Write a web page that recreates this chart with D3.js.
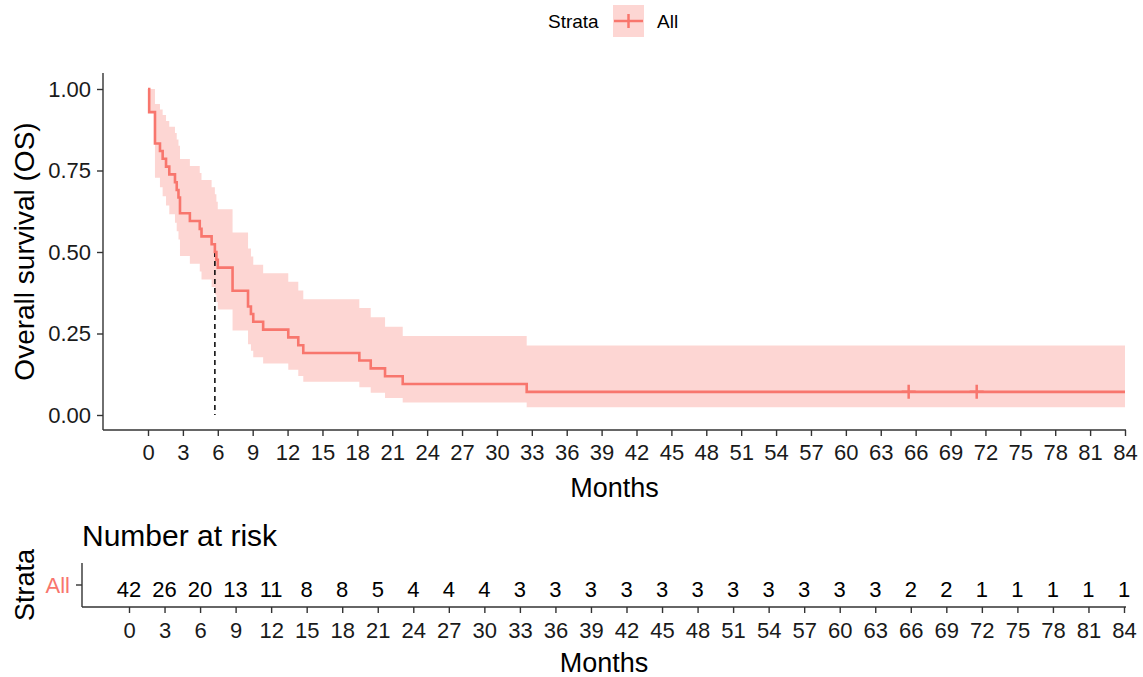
<!DOCTYPE html>
<html>
<head>
<meta charset="utf-8">
<script src="https://cdn.jsdelivr.net/npm/d3@7"></script>
<style>
  body { margin: 0; background: #fff; }
  text { font-family: "Liberation Sans", Arial, sans-serif; }
</style>
</head>
<body>
<div id="chart"></div>
<script>
// Kaplan-Meier steps (months, survival, 95% CI)
const stepTimes = [0, 0.1, 0.6, 1.03, 1.26, 1.55, 1.83, 2.32, 2.47, 2.62, 2.75, 3.6, 4.45, 4.6, 5.47, 5.75, 5.88, 6.0,
  7.27, 8.6, 8.85, 9.05, 9.9, 12.06, 12.92, 13.35, 18.17, 19.15, 20.38, 21.9, 32.56];
const survival = [1.000, 0.929, 0.833, 0.810, 0.786, 0.762, 0.738, 0.714, 0.690, 0.667, 0.619, 0.595, 0.571, 0.548, 0.524, 0.500, 0.476, 0.452,
  0.381, 0.333, 0.310, 0.286, 0.262, 0.238, 0.214, 0.190, 0.167, 0.143, 0.119, 0.095, 0.071];
const upper = [1.000, 1.000, 0.954, 0.937, 0.920, 0.902, 0.884, 0.865, 0.845, 0.826, 0.785, 0.764, 0.742, 0.721, 0.699, 0.677, 0.654, 0.631,
  0.560, 0.511, 0.486, 0.461, 0.435, 0.409, 0.382, 0.355, 0.328, 0.300, 0.271, 0.242, 0.213];
const lower = [1.000, 0.929, 0.728, 0.699, 0.671, 0.643, 0.616, 0.590, 0.564, 0.538, 0.488, 0.464, 0.440, 0.416, 0.393, 0.370, 0.347, 0.324,
  0.259, 0.217, 0.197, 0.177, 0.158, 0.139, 0.120, 0.102, 0.085, 0.068, 0.052, 0.038, 0.024];
const endTime = 84;
const censorTimes = [65.4, 71.25];
const medianTime = 5.75;

// Number at risk table
const riskTimes = d3.range(0, 85, 3);
const riskCounts = [42, 26, 20, 13, 11, 8, 8, 5, 4, 4, 4, 3, 3, 3, 3, 3, 3, 3, 3, 3, 3, 3, 2, 2, 1, 1, 1, 1, 1];
const strataName = "All";

const width = 1143, height = 677;
const red = "#F8766D";
const axisCol = "#333333";
const tickFont = "22px";
const titleFont = "27px";

const svg = d3.select("#chart").append("svg")
  .attr("width", width).attr("height", height);

// ---------- main plot ----------
const panel = { left: 103, right: 1126, top: 73, bottom: 430 };
const x = d3.scaleLinear().domain([0, 84]).range([148, 1125]);
const y = d3.scaleLinear().domain([0, 1]).range([415, 89]);

const steps = stepTimes.map((t, i) => ({ t: t, s: survival[i], up: upper[i], lo: lower[i] }));
steps.push({ t: endTime, s: survival[survival.length - 1], up: upper[upper.length - 1], lo: lower[lower.length - 1] });

// confidence band
svg.append("path")
  .datum(steps)
  .attr("fill", red)
  .attr("fill-opacity", 0.3)
  .attr("d", d3.area()
    .curve(d3.curveStepAfter)
    .x(d => x(d.t))
    .y0(d => y(d.lo))
    .y1(d => y(d.up)));

// median line
svg.append("line")
  .attr("x1", x(medianTime)).attr("x2", x(medianTime))
  .attr("y1", y(0.5)).attr("y2", y(0))
  .attr("stroke", "#000").attr("stroke-width", 1.5)
  .attr("stroke-dasharray", "5 4");

// survival curve
svg.append("path")
  .datum(steps)
  .attr("fill", "none")
  .attr("stroke", red)
  .attr("stroke-width", 2.6)
  .attr("d", d3.line()
    .curve(d3.curveStepAfter)
    .x(d => x(d.t))
    .y(d => y(d.s)));

// censor marks
const lastS = survival[survival.length - 1];
svg.selectAll(".censor")
  .data(censorTimes)
  .enter()
  .append("path")
  .attr("class", "censor")
  .attr("d", d => `M${x(d) - 7},${y(lastS)}H${x(d) + 7}M${x(d)},${y(lastS) - 7}V${y(lastS) + 7}`)
  .attr("stroke", red)
  .attr("stroke-width", 2.5);

// axes
const xAxis = svg.append("g")
  .attr("transform", `translate(0,${panel.bottom})`)
  .call(d3.axisBottom(x).tickValues(d3.range(0, 85, 3)).tickSize(6).tickPadding(8));
xAxis.select(".domain").attr("d", `M${panel.left},0H${panel.right}`);

const yAxis = svg.append("g")
  .attr("transform", `translate(${panel.left},0)`)
  .call(d3.axisLeft(y).tickValues([0, 0.25, 0.5, 0.75, 1]).tickFormat(d3.format(".2f")).tickSize(6).tickPadding(6));
yAxis.select(".domain").attr("d", `M0,${panel.top}V${panel.bottom}`);

[xAxis, yAxis].forEach(g => {
  g.select(".domain").attr("stroke", axisCol).attr("stroke-width", 1.4);
  g.selectAll(".tick line").attr("stroke", axisCol).attr("stroke-width", 1.4);
  g.selectAll(".tick text").attr("fill", "#1a1a1a").style("font-size", tickFont);
});

svg.append("text")
  .attr("x", (panel.left + panel.right) / 2)
  .attr("y", 497)
  .attr("text-anchor", "middle")
  .style("font-size", titleFont)
  .text("Months");

svg.append("text")
  .attr("transform", `translate(34,${(panel.top + panel.bottom) / 2}) rotate(-90)`)
  .attr("text-anchor", "middle")
  .style("font-size", "28px")
  .text("Overall survival (OS)");

// legend
const legend = svg.append("g");
legend.append("text").attr("x", 548).attr("y", 28).style("font-size", "19px").text("Strata");
legend.append("rect").attr("x", 613).attr("y", 5).attr("width", 31).attr("height", 32)
  .attr("fill", red).attr("fill-opacity", 0.3);
legend.append("line").attr("x1", 614).attr("x2", 643).attr("y1", 21).attr("y2", 21)
  .attr("stroke", red).attr("stroke-width", 2.5);
legend.append("line").attr("x1", 628.5).attr("x2", 628.5).attr("y1", 14).attr("y2", 28)
  .attr("stroke", red).attr("stroke-width", 2.5);
legend.append("text").attr("x", 657).attr("y", 28).style("font-size", "19px").text(strataName);

// ---------- risk table ----------
const rPanel = { left: 82, right: 1126, top: 563, bottom: 607 };
const xr = d3.scaleLinear().domain([0, 84]).range([129, 1124]);
const rowY = 585;

svg.append("text")
  .attr("x", 82).attr("y", 546)
  .style("font-size", "30px")
  .text("Number at risk");

svg.selectAll(".risk")
  .data(riskTimes)
  .enter()
  .append("text")
  .attr("class", "risk")
  .attr("x", d => xr(d))
  .attr("y", rowY + 4)
  .attr("dy", "0.35em")
  .attr("text-anchor", "middle")
  .style("font-size", tickFont)
  .attr("fill", "#000")
  .text((d, i) => riskCounts[i]);

const xrAxis = svg.append("g")
  .attr("transform", `translate(0,${rPanel.bottom})`)
  .call(d3.axisBottom(xr).tickValues(riskTimes).tickSize(6).tickPadding(9));
xrAxis.select(".domain").attr("d", `M${rPanel.left},0H${rPanel.right}`);

const yrAxis = svg.append("g").attr("transform", `translate(${rPanel.left},0)`);
yrAxis.append("path").attr("d", `M0,${rPanel.top}V${rPanel.bottom}`);
yrAxis.append("line").attr("x1", -6).attr("x2", 0).attr("y1", rowY).attr("y2", rowY);
yrAxis.append("text")
  .attr("x", -12).attr("y", rowY).attr("dy", "0.35em")
  .attr("text-anchor", "end")
  .attr("fill", red)
  .style("font-size", tickFont)
  .text(strataName);

[xrAxis, yrAxis].forEach(g => {
  g.selectAll("path").attr("stroke", axisCol).attr("stroke-width", 1.4).attr("fill", "none");
  g.selectAll("line").attr("stroke", axisCol).attr("stroke-width", 1.4);
});
xrAxis.selectAll(".tick text").attr("fill", "#1a1a1a").style("font-size", tickFont);

svg.append("text")
  .attr("x", (rPanel.left + rPanel.right) / 2)
  .attr("y", 672)
  .attr("text-anchor", "middle")
  .style("font-size", titleFont)
  .text("Months");

svg.append("text")
  .attr("transform", `translate(34,${rowY}) rotate(-90)`)
  .attr("text-anchor", "middle")
  .style("font-size", titleFont)
  .text("Strata");
</script>
</body>
</html>
